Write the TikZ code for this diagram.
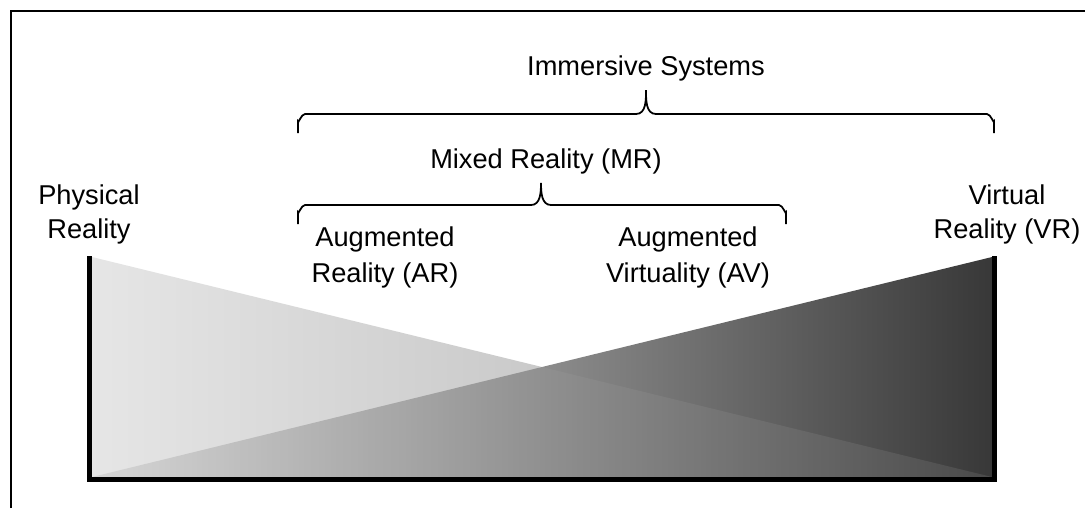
\documentclass[tikz,border=0pt]{standalone}
\usepackage{fontspec}
\setmainfont{Liberation Sans}
\definecolor{darkL}{HTML}{E0E0E0}
\definecolor{darkM}{HTML}{A8A8A8}
\definecolor{darkR}{HTML}{383838}
\definecolor{lightL}{HTML}{CDCDCD}
\definecolor{lightM}{HTML}{B8B8B8}
\definecolor{lightR}{HTML}{5C5C5C}

\begin{document}
\begin{tikzpicture}[x=0.02cm,y=-0.02cm,
  lbl/.style={anchor=base,inner sep=0pt,font=\fontsize{15.5}{18}\selectfont},
  brace/.style={line width=1pt},
  bar/.style={line width=0.1cm}]
\useasboundingbox (0,0) rectangle (1085,508);
\draw[line width=0.055cm] (11,508) -- (11,11) -- (1085,11);
\shade[left color=darkL,middle color=darkM,right color=darkR] (92,477) -- (992,257) -- (992,477) -- cycle;
\shade[left color=lightL,middle color=lightM,right color=lightR,opacity=0.5] (92,257) -- (92,477) -- (992,477) -- cycle;
\draw[bar] (89.5,256) -- (89.5,479) -- (994.5,479) -- (994.5,256);
\draw(646,75) node[lbl] (immersive) {Immersive Systems};
\draw(546,168) node[lbl] (mixed) {Mixed Reality (MR)};
\draw(89,204) node[lbl] (phys) {Physical};
\draw(89,238) node[lbl] (physb) {Reality};
\draw(385,246) node[lbl] (ar) {Augmented};
\draw(385,282) node[lbl] (arb) {Reality (AR)};
\draw(688,246) node[lbl] (av) {Augmented};
\draw(688,282) node[lbl] (avb) {Virtuality (AV)};
\draw(1007,204) node[lbl] (vr) {Virtual};
\draw(1007,238) node[lbl] (vrb) {Reality (VR)};
\draw[brace] (298,133) -- (298,121) to[out=-90,in=180] (305,114) -- (636,114) to[out=0,in=-90] (646,90) to[out=-90,in=180] (656,114) -- (987,114) to[out=0,in=-90] (994,121) -- (994,133);
\draw[brace] (298,224) -- (298,212) to[out=-90,in=180] (305,205) -- (531,205) to[out=0,in=-90] (541,183) to[out=-90,in=180] (551,205) -- (779,205) to[out=0,in=-90] (786,212) -- (786,224);
\end{tikzpicture}
\end{document}
